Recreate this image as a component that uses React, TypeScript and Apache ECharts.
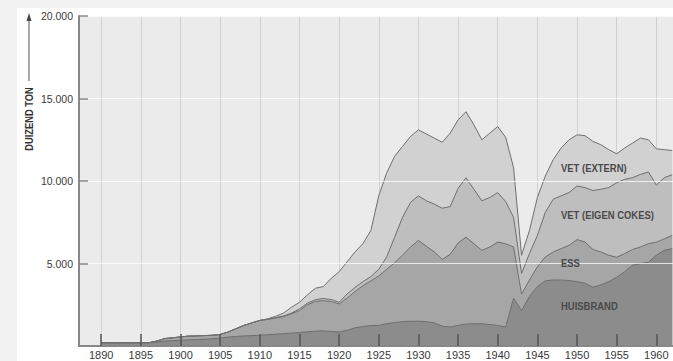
import React, { useEffect, useRef } from "react";
import * as echarts from "echarts";

// Years of the series (one point per year)
const years: number[] = Array.from({ length: 73 }, (_, i) => 1890 + i);

// Upper boundary of each band (thousand tonnes)
const huisbrandTop = [
  200, 200, 200, 200, 200, 200, 200, 230, 300, 320,
  350, 370, 390, 410, 440, 480, 540, 580, 610, 630,
  650, 680, 720, 750, 780, 820, 860, 900, 920, 880,
  850, 950, 1100, 1180, 1240, 1250, 1350, 1420, 1480, 1500,
  1500, 1480, 1400, 1200, 1150, 1250, 1330, 1350, 1350, 1300,
  1250, 1150, 2900, 2150, 3000, 3600, 3950, 4000, 4000, 3970,
  3900, 3800, 3560, 3700, 3900, 4170, 4500, 4900, 5000, 5080,
  5500, 5800, 5900,
];
const essTop = [
  200, 200, 200, 200, 200, 200, 200, 300, 450, 500,
  550, 600, 610, 630, 650, 700, 850, 1050, 1250, 1400,
  1550, 1620, 1700, 1780, 1950, 2150, 2500, 2700, 2750, 2700,
  2550, 2900, 3300, 3650, 3950, 4250, 4650, 5050, 5500, 6000,
  6400, 6050, 5700, 5250, 5550, 6250, 6600, 6200, 5800, 6000,
  6300, 6200, 6000, 3150, 4000, 4800, 5400, 5700, 5900, 6100,
  6450, 6300, 5850, 5700, 5500, 5380, 5600, 5850, 6000, 6200,
  6290, 6500, 6700,
];
const vetEigenTop = [
  200, 200, 200, 200, 200, 200, 200, 300, 450, 500,
  550, 600, 610, 630, 650, 700, 850, 1050, 1250, 1400,
  1550, 1620, 1720, 1820, 2000, 2250, 2600, 2800, 2880, 2820,
  2650, 3150, 3550, 3900, 4200, 4650, 5400, 6600, 7800, 8700,
  9100, 8800, 8600, 8350, 8450, 9550, 10200, 9500, 8800, 9000,
  9300, 8750, 7800, 4400, 5600, 6700, 8100, 8900, 9100, 9300,
  9700, 9600, 9420, 9500, 9600, 9900, 10100, 10200, 10400, 10550,
  9750, 10200, 10380,
];
const vetExternTop = [
  200, 200, 200, 200, 200, 200, 200, 300, 450, 500,
  550, 600, 610, 630, 650, 700, 850, 1050, 1250, 1400,
  1550, 1650, 1800, 2000, 2350, 2650, 3100, 3500, 3600, 4100,
  4500, 5100, 5700, 6200, 7000, 9100, 10500, 11500, 12100, 12700,
  13100, 12850, 12600, 12350, 12900, 13700, 14200, 13400, 12500, 12900,
  13300, 12650, 10800, 5500, 7000, 9000, 10300, 11300, 12000, 12500,
  12800, 12750, 12400, 12200, 11900, 11650, 12000, 12300, 12600, 12500,
  11950, 11900, 11850,
];

const tickYears = [1890, 1895, 1900, 1905, 1910, 1915, 1920, 1925, 1930, 1935, 1940, 1945, 1950, 1955, 1960];
const bandNames = ["VET (EXTERN)", "VET (EIGEN COKES)", "ESS", "HUISBRAND"];
const bandColors = ["#d1d1d1", "#bebebe", "#a6a6a6", "#8c8c8c"];
const yAxisTitle = "DUIZEND TON";

const labelFont = '"Liberation Sans", Arial, sans-serif';

export default function App() {
  const ref = useRef<HTMLDivElement>(null);

  useEffect(() => {
    if (!ref.current) return;
    const chart = echarts.init(ref.current, undefined, { renderer: "svg" });
    const tops = [vetExternTop, vetEigenTop, essTop, huisbrandTop];

    const series = tops.map((arr, k) => ({
      type: "line",
      name: bandNames[k],
      data: years.map((y, i) => [y, arr[i]]),
      xAxisIndex: 0,
      yAxisIndex: 0,
      symbol: "none",
      smooth: false,
      lineStyle: { color: "#6f6f6f", width: 1 },
      areaStyle: { color: bandColors[k], opacity: 1 },
      z: 2,
    }));

    const labelY = [168, 215, 263, 306];
    const graphic: any[] = [
      { type: "rect", shape: { x: 0, y: 0, width: 17, height: 361 }, style: { fill: "#f2f2f2" }, silent: true },
      { type: "rect", shape: { x: 0, y: 0, width: 673, height: 8 }, style: { fill: "#f2f2f2" }, silent: true },
      {
        type: "text",
        x: 29,
        y: 119,
        rotation: Math.PI / 2,
        scaleX: 0.85,
        style: {
          text: yAxisTitle,
          fill: "#333",
          font: `bold 11px ${labelFont}`,
          align: "center",
          verticalAlign: "middle",
        },
      },
      { type: "line", shape: { x1: 29, y1: 20, x2: 29, y2: 81 }, style: { stroke: "#555", lineWidth: 1 } },
      { type: "polygon", shape: { points: [[29, 13], [26.5, 21], [31.5, 21]] }, style: { fill: "#444" } },
      ...bandNames.map((n, k) => ({
        type: "text",
        x: 561,
        y: labelY[k],
        z: 20,
        scaleX: 0.86,
        style: {
          text: n,
          fill: "#4a4a4a",
          font: `bold 11px ${labelFont}`,
          align: "left",
          verticalAlign: "middle",
        },
      })),
    ];

    chart.setOption({
      animation: false,
      backgroundColor: "#ffffff",
      grid: {
        left: 79,
        right: 0,
        top: 16,
        bottom: 15,
        show: true,
        backgroundColor: "#ebebeb",
        borderWidth: 0,
      },
      xAxis: [
        {
          type: "value",
          min: 1887.2,
          max: 1962.1,
          position: "bottom",
          z: 0,
          axisLine: { show: false },
          axisTick: { show: false, customValues: tickYears },
          axisLabel: {
            customValues: tickYears,
            fontSize: 11,
            color: "#3a3a3a",
            margin: 3,
            fontFamily: labelFont,
            formatter: (v: number) => String(v),
          },
          splitLine: { show: true, lineStyle: { color: "#d0d0d0", width: 1 } },
        },
        {
          type: "value",
          min: 1887.2,
          max: 1962.1,
          position: "bottom",
          z: 10,
          axisLine: { show: true, lineStyle: { color: "#888", width: 2 } },
          axisTick: {
            show: true,
            inside: true,
            length: 12,
            customValues: tickYears,
            lineStyle: { color: "#555", width: 1.5 },
          },
          axisLabel: { show: false },
          splitLine: { show: false },
        },
      ],
      yAxis: {
        type: "value",
        min: 0,
        max: 20000,
        interval: 5000,
        z: 5,
        axisLine: { show: true, lineStyle: { color: "#888", width: 2 } },
        axisTick: { show: true, inside: true, length: 9, lineStyle: { color: "#888", width: 1.5 } },
        axisLabel: {
          fontSize: 10.5,
          color: "#3a3a3a",
          margin: 6,
          fontFamily: labelFont,
          formatter: (v: number) => (v === 0 ? "" : (v / 1000).toFixed(3)),
        },
        splitLine: { show: true, lineStyle: { color: "rgba(255,255,255,0.75)", width: 1 } },
      },
      graphic,
      series,
    });

    return () => chart.dispose();
  }, []);

  return (
    <div
      ref={ref}
      style={{ position: "absolute", left: 0, top: 0, width: 673, height: 361 }}
    />
  );
}
